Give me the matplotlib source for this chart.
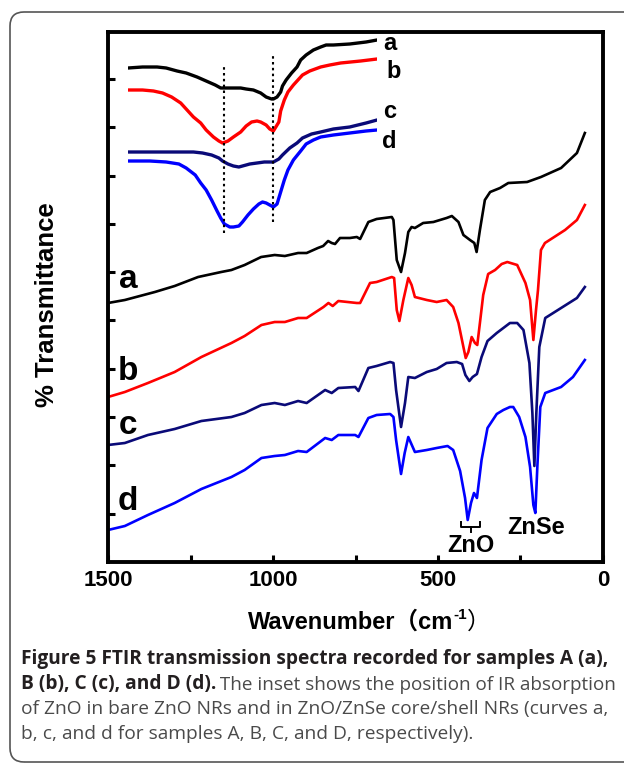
import matplotlib
matplotlib.use("Agg")
import matplotlib.pyplot as plt
from matplotlib.patches import FancyBboxPatch
from matplotlib.ticker import MultipleLocator

# ---------------- data ----------------
# main FTIR spectra: wavenumber (cm-1) and offset transmittance (a.u.)
a_wn = [1500, 1449, 1358, 1298, 1227, 1157, 1126, 1086, 1036, 995, 964, 924, 898, 864, 848, 833, 822, 812,
        797, 767, 746, 736, 711, 686, 640, 635, 625, 612, 600, 590, 580, 570, 545, 514, 474, 458, 438, 423,
        403, 390, 383, 373, 358, 342, 312, 287, 230, 188, 127, 79, 55]
a_t = [259, 262, 270, 276, 285, 290, 292, 297, 305, 307, 306, 309, 309, 314, 316, 321, 319, 318,
       324, 324, 325, 323, 340, 343, 345, 342, 302, 290, 309, 330, 335, 334, 339, 340, 344, 346, 340, 327,
       322, 319, 310, 332, 362, 370, 374, 379, 380, 385, 394, 409, 429]

b_wn = [1500, 1449, 1379, 1298, 1217, 1126, 1086, 1035, 995, 964, 924, 898, 847, 832, 819, 802, 746, 736,
        706, 686, 640, 633, 625, 617, 605, 590, 580, 570, 534, 504, 474, 454, 438, 423, 416, 408, 398, 388,
        381, 373, 363, 348, 327, 307, 290, 260, 235, 221, 211, 203, 197, 188, 176, 115, 79, 55]
b_t = [165, 170, 179, 190, 205, 219, 226, 237, 240, 240, 244, 244, 255, 259, 256, 261, 259, 259,
       279, 280, 285, 284, 252, 241, 262, 284, 277, 265, 262, 260, 262, 255, 239, 215, 204, 210, 225, 219,
       217, 239, 267, 288, 292, 298, 300, 297, 279, 262, 222, 252, 272, 312, 319, 332, 342, 357]

c_wn = [1500, 1449, 1379, 1298, 1217, 1126, 1086, 1035, 995, 964, 924, 898, 842, 822, 802, 751, 741, 711,
        686, 645, 635, 627, 612, 600, 590, 570, 534, 504, 474, 443, 427, 417, 405, 395, 382, 368, 350, 322,
        302, 282, 260, 241, 223, 214, 208, 202, 193, 175, 127, 79, 55]
c_t = [117, 119, 127, 133, 141, 145, 149, 157, 159, 157, 161, 159, 172, 169, 174, 175, 171, 194,
       196, 200, 199, 172, 135, 159, 185, 184, 190, 193, 199, 200, 198, 187, 181, 185, 188, 205, 221, 229,
       234, 239, 239, 232, 199, 149, 96, 149, 215, 244, 254, 264, 275]

d_wn = [1500, 1449, 1379, 1298, 1217, 1126, 1086, 1035, 995, 964, 924, 898, 842, 822, 802, 751, 741, 711,
        686, 645, 635, 627, 612, 601, 590, 570, 534, 504, 471, 454, 433, 418, 410, 400, 391, 382, 368, 350,
        322, 302, 282, 272, 254, 235, 221, 211, 205, 199, 190, 175, 127, 91, 55]
d_t = [32, 36, 47, 59, 73, 85, 92, 104, 106, 107, 111, 110, 124, 122, 127, 127, 125, 144,
       147, 148, 145, 122, 88, 109, 125, 110, 112, 114, 116, 112, 91, 64, 42, 59, 69, 64, 102, 134,
       148, 152, 155, 155, 145, 125, 95, 57, 49, 95, 155, 169, 175, 185, 202]

# inset: ZnO region (cm-1) of the four spectra
ia_wn = [465, 457, 449, 444, 438, 433, 427, 422, 417, 414, 412, 407, 403, 400, 396, 392, 389, 386, 385,
         383, 381, 380, 378, 375, 372, 370, 367, 363, 359, 356, 352, 343, 334, 328]
ia_t = [494, 495, 495, 494, 491, 489, 485, 481, 477, 474, 474, 474, 474, 473, 472, 469, 465, 463, 463,
        465, 470, 476, 482, 489, 495, 502, 507, 512, 515, 517, 517, 518, 520, 522]
ib_wn = [465, 457, 451, 446, 441, 436, 433, 429, 425, 422, 418, 415, 413, 410, 407, 403, 400, 397, 394,
         392, 389, 387, 385, 384, 382, 381, 379, 377, 374, 371, 369, 365, 359, 354, 348, 337, 328]
ib_t = [472, 472, 471, 469, 465, 459, 453, 445, 439, 432, 425, 421, 419, 421, 425, 430, 436, 440, 441,
        440, 437, 433, 431, 434, 440, 451, 462, 470, 477, 483, 487, 491, 495, 497, 499, 501, 503]
ic_wn = [465, 444, 429, 424, 419, 415, 413, 410, 407, 404, 402, 398, 394, 390, 385, 382, 380, 376, 372,
         369, 364, 359, 352, 343, 334, 328]
ic_t = [410, 410, 410, 409, 407, 404, 401, 398, 396, 395, 396, 398, 399, 400, 400, 403, 407, 414, 419,
        424, 428, 430, 433, 435, 439, 442]
id_wn = [465, 453, 444, 437, 433, 428, 425, 422, 419, 416, 414, 412, 409, 407, 404, 402, 399, 396, 393,
         391, 389, 387, 385, 383, 381, 379, 377, 374, 370, 367, 363, 359, 352, 343, 334, 328]
id_t = [401, 401, 400, 398, 394, 387, 379, 372, 362, 351, 344, 338, 335, 335, 336, 340, 347, 353, 358,
        360, 359, 357, 355, 358, 370, 382, 392, 402, 411, 418, 422, 425, 427, 429, 431, 432]
inset_marks = [412, 385]          # dotted guide lines (cm-1)

curve_names = ["a", "b", "c", "d"]
curve_colors = ["#000000", "#ff0000", "#0a0a78", "#0000ff"]
x_ticks = [1500, 1000, 500, 0]
y_ticks = [48, 97, 145, 193, 242, 290, 338, 386, 435, 483]

caption_bold_1 = "Figure 5 FTIR transmission spectra recorded for samples A (a),"
caption_bold_2 = "B (b), C (c), and D (d)."
caption_reg_2 = " The inset shows the position of IR absorption"
caption_reg_3 = "of ZnO in bare ZnO NRs and in ZnO/ZnSe core/shell NRs (curves a,"
caption_reg_4 = "b, c, and d for samples A, B, C, and D, respectively)."

# ---------------- figure ----------------
W, H = 624, 764
fig = plt.figure(figsize=(W / 100, H / 100), dpi=100)
FONT = ["Liberation Sans", "DejaVu Sans"]
CJK = ["Liberation Sans", "Noto Sans CJK SC", "DejaVu Sans"]

# rounded frame around figure + caption
frame = FancyBboxPatch((10, 2), 700, H - 14, boxstyle="round,pad=0,rounding_size=14",
                       transform=None, facecolor="none", edgecolor="#555555", linewidth=1.2)
fig.patches.append(frame)

L, R, T, B = 108, 603, 32, 562
ax = fig.add_axes([L / W, (H - B) / H, (R - L) / W, (B - T) / H])

main = [(a_wn, a_t), (b_wn, b_t), (c_wn, c_t), (d_wn, d_t)]
for (wn, tr), col in zip(main, curve_colors):
    ax.plot(wn, tr, color=col, lw=1.9, solid_joinstyle="round")

ax.set_xlim(1500, 0)
ax.set_ylim(0, 530)
ax.set_xticks(x_ticks)
ax.set_xticklabels([str(v) for v in x_ticks])
ax.xaxis.set_minor_locator(MultipleLocator(250))
ax.set_yticks(y_ticks)
ax.set_yticklabels([])
ax.tick_params(which="both", direction="in", length=5, width=2.2, top=False, right=False)
ax.tick_params(axis="x", pad=6, labelsize=16)
for lab in ax.get_xticklabels():
    lab.set_fontweight("bold")
    lab.set_family(FONT)
for sp in ax.spines.values():
    sp.set_linewidth(2.8)

# curve labels
label_pos = [(1439, 282), (1439, 190), (1439, 137), (1439, 60)]
for name, (x, y) in zip(curve_names, label_pos):
    ax.text(x, y, name, fontsize=24, fontweight="bold", family=FONT, ha="center", va="center")

# ZnO bracket and labels
ax.plot([430, 430, 373, 373], [40, 35, 35, 40], color="black", lw=1.4)
ax.plot([401, 401], [35, 30], color="black", lw=1.4)
ax.text(400, 17, "ZnO", fontsize=17, fontweight="bold", family=FONT, ha="center", va="center")
ax.text(203, 35, "ZnSe", fontsize=17, fontweight="bold", family=FONT, ha="center", va="center")

# axis labels
ax.set_ylabel("% Transmittance", fontsize=18.5, fontweight="bold", family=FONT, va="center")
ax.yaxis.set_label_coords(-0.123, 0.485)
xl = ax.set_xlabel("Wavenumber\uff08cm", fontsize=17, fontweight="bold", family=CJK, va="center")
ax.xaxis.set_label_coords(0.49, -0.113)
sup = ax.annotate("-1", xy=(1, 1), xycoords=xl, xytext=(0, -3), textcoords="offset points",
                  fontsize=11, fontweight="bold", family=FONT, ha="left", va="center")
ax.annotate("\uff09", xy=(1, 0), xycoords=(sup, xl), fontsize=17, family=CJK, ha="left", va="bottom")

# inset
iax = fig.add_axes([128 / W, (H - B) / H, 249 / W, (B - T) / H])
iax.set_xlim(465, 328)
iax.set_ylim(0, 530)
iax.axis("off")
iax.patch.set_alpha(0)
inset = [(ia_wn, ia_t), (ib_wn, ib_t), (ic_wn, ic_t), (id_wn, id_t)]
for (wn, tr), col in zip(inset, curve_colors):
    iax.plot(wn, tr, color=col, lw=2.4, solid_joinstyle="round", solid_capstyle="round")
iax.plot([inset_marks[0]] * 2, [329, 495], color="black", lw=1.5, ls=(0, (1.2, 1.6)))
iax.plot([inset_marks[1]] * 2, [340, 506], color="black", lw=1.5, ls=(0, (1.2, 1.6)))
inset_label_pos = [(321, 519), (319, 490), (321, 450), (321, 420)]
for name, (x, y) in zip(curve_names, inset_label_pos):
    iax.text(x, y, name, fontsize=17, fontweight="bold", family=FONT, ha="center", va="center",
             clip_on=False)

# caption
CAP = ["Open Sans", "DejaVu Sans"]
cs = 13.8
fig.text(21 / W, 1 - 659 / H, caption_bold_1, fontsize=cs, fontweight="bold", family=CAP,
         color="#231f20", va="center")
c2 = fig.text(21 / W, 1 - 684 / H, caption_bold_2, fontsize=cs, fontweight="bold", family=CAP,
              color="#231f20", va="center")
ax.annotate(caption_reg_2, xy=(1, 0), xycoords=c2, xytext=(-0.8, 0), textcoords="offset points",
            fontsize=cs - 0.2, family=CAP, color="#4a4a4a", ha="left", va="bottom",
            annotation_clip=False)
fig.text(21 / W, 1 - 709 / H, caption_reg_3, fontsize=cs, family=CAP, color="#4a4a4a", va="center")
fig.text(21 / W, 1 - 734 / H, caption_reg_4, fontsize=cs, family=CAP, color="#4a4a4a", va="center")

fig.savefig("out.png", dpi=100)
